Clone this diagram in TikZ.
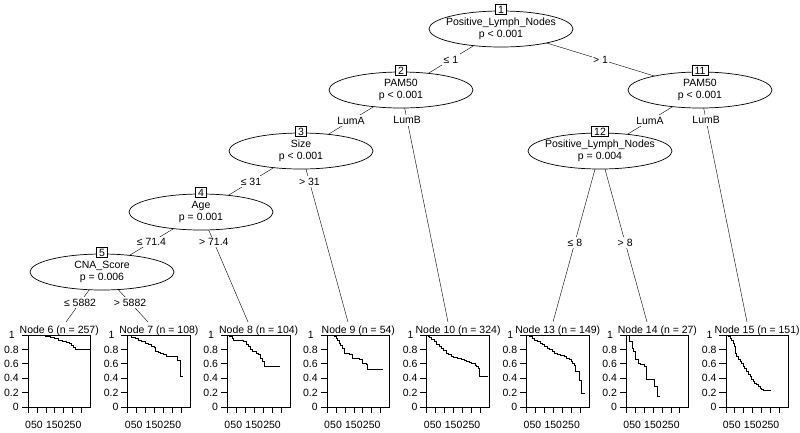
\documentclass[tikz,border=0pt]{standalone}
\usepackage{fontspec}
\setmainfont{Liberation Sans}
\usetikzlibrary{shapes.geometric}
\pgfdeclarelayer{bg}
\pgfsetlayers{bg,main}
\tikzset{
  every node/.style={font=\fontsize{10.5}{12}\selectfont, inner sep=0pt},
  innernode/.style={ellipse, draw, fill=white, minimum width=144pt, minimum height=36pt, inner sep=0pt},
  numbox/.style={draw, fill=white, minimum height=10pt, inner xsep=2.4pt, inner ysep=1pt},
  ntext/.style={align=center},
  edgelab/.style={fill=white, inner xsep=1.5pt, inner ysep=1.5pt},
  curve/.style={line width=0.7pt},
}
\newcommand\survpanel[4]{%
  \begin{scope}[shift={(#1,407)}, x=0.178571pt, y=72pt]
    \draw (0,0) rectangle (350,1);
    \foreach \v/\l/\s [count=\i] in {0/0/9,0.2/0.2/9,0.4/0.4/9,0.6/0.6/9,0.8/0.8/9,1/1/13} {
      \draw (0,\v) -- ++(-6.5pt,0);
      \node[anchor=east] (ya#2-\i) at ([xshift=-\s pt]0,\v) {\l};
    }
    \foreach \t in {0,50,...,300} { \draw (\t,0) -- ++(0,-6pt); }
    \foreach \t [count=\i] in {0,50,150,250} {
      \node (xa#2-\i) at ([yshift=-18pt]\t,0) {\t};
    }
    \node[anchor=base] (t#2) at ([yshift=2pt]175,1) {Node #2 (n = #3)};
    \draw[curve] plot[const plot] coordinates {#4};
  \end{scope}}
\begin{document}
\begin{tikzpicture}[x=1pt, y=-1pt, line width=0.7pt]
\useasboundingbox (0,0) rectangle (800,432);

% terminal panels
\survpanel{28}{6}{257}{(0,1)(30,0.995)(67,0.99)(95,0.98)(123,0.963)(145,0.95)(170,0.93)(195,0.915)(217,0.9)(232,0.885)(245,0.86)(255,0.83)(263,0.805)(350,0.805)}
\survpanel{127.7}{7}{108}{(0,1)(22,0.968)(41,0.949)(59,0.93)(78,0.907)(97,0.884)(115,0.875)(134,0.847)(147,0.829)(153,0.768)(171,0.76)(181,0.745)(199,0.736)(218,0.708)(255,0.699)(278,0.643)(293,0.421)(308,0.421)}
\survpanel{227.4}{8}{104}{(0,1)(10,0.98)(25,0.955)(34,0.93)(90,0.91)(105,0.87)(115,0.84)(128,0.80)(140,0.77)(160,0.745)(175,0.725)(185,0.68)(194,0.63)(207,0.56)(297,0.56)}
\survpanel{327.1}{9}{54}{(0,1)(38,0.98)(50,0.955)(57,0.92)(66,0.885)(75,0.85)(85,0.82)(95,0.75)(110,0.74)(123,0.73)(142,0.68)(165,0.67)(180,0.66)(199,0.61)(221,0.59)(227,0.52)(312,0.52)}
\survpanel{426.8}{10}{324}{(0,1)(8,0.985)(17,0.965)(27,0.94)(40,0.91)(55,0.87)(70,0.84)(83,0.81)(95,0.78)(110,0.75)(122,0.73)(135,0.71)(150,0.69)(170,0.675)(195,0.66)(210,0.645)(223,0.63)(240,0.615)(251,0.6)(270,0.585)(279,0.56)(289,0.537)(294,0.42)(344,0.42)}
\survpanel{526.5}{13}{149}{(0,1)(15,0.975)(32,0.955)(45,0.93)(60,0.91)(75,0.885)(88,0.865)(102,0.84)(116,0.82)(130,0.795)(144,0.77)(158,0.75)(172,0.735)(190,0.72)(210,0.70)(225,0.68)(238,0.66)(250,0.63)(257,0.607)(266,0.583)(275,0.49)(294,0.375)(309,0.19)(328,0.19)}
\survpanel{626.2}{14}{27}{(0,1)(19,0.91)(32,0.82)(42,0.77)(51,0.656)(70,0.61)(80,0.59)(99,0.564)(114,0.38)(156,0.29)(175,0.142)(190,0.142)}
\survpanel{725.9}{15}{151}{(0,1)(13,0.985)(25,0.96)(32,0.93)(41,0.885)(46,0.84)(51,0.79)(55,0.745)(60,0.70)(70,0.665)(79,0.633)(88,0.6)(97,0.564)(106,0.53)(116,0.495)(125,0.46)(135,0.427)(144,0.39)(153,0.358)(162,0.335)(172,0.31)(181,0.29)(191,0.266)(200,0.25)(210,0.234)(251,0.234)}

% edge end points at the terminal panels
\coordinate (e6) at (66,322);
\coordinate (e7) at (148,322);
\coordinate (e8) at (248,322);
\coordinate (e9) at (348,322);
\coordinate (e10) at (448,322);
\coordinate (e13) at (553,322);
\coordinate (e14) at (647,322);
\coordinate (e15) at (747,322);

% inner nodes
\foreach \id/\x/\y/\name/\p in {
  1/501/29/Positive\_Lymph\_Nodes/p < 0.001,
  2/401/90/PAM50/p < 0.001,
  11/700/90/PAM50/p < 0.001,
  3/301/151/Size/p < 0.001,
  12/600/151/Positive\_Lymph\_Nodes/p = 0.004,
  4/201/212/Age/p = 0.001,
  5/102/272/CNA\_Score/p = 0.006} {
  \node[innernode] (n\id) at (\x,\y) {};
  \node[ntext] (s\id) at (\x,\y-0.5) {\name\\\p};
  \node[numbox] (b\id) at (\x,\y-19.5) {\id};
}

% connectors
\begin{pgfonlayer}{bg}
\draw (n1.center) -- (n2.center) node[edgelab,pos=0.5] (l2) {≤ 1};
\draw (n1.center) -- (n11.center) node[edgelab,pos=0.5] (l11) {> 1};
\draw (n2.center) -- (n3.center) node[edgelab,pos=0.5] (l3) {LumA};
\draw (n2.center) -- (e10) node[edgelab,pos=0.131] (l10) {LumB};
\draw (n11.center) -- (n12.center) node[edgelab,pos=0.5] (l12) {LumA};
\draw (n11.center) -- (e15) node[edgelab,pos=0.131] (l15) {LumB};
\draw (n3.center) -- (n4.center) node[edgelab,pos=0.5] (l4) {≤ 31};
\draw (n3.center) -- (e9) node[edgelab,pos=0.178] (l9) {> 31};
\draw (n4.center) -- (n5.center) node[edgelab,pos=0.5] (l5) {≤ 71.4};
\draw (n4.center) -- (e8) node[edgelab,pos=0.273] (l8) {> 71.4};
\draw (n5.center) -- (e6) node[edgelab,pos=0.61] (l6) {≤ 5882};
\draw (n5.center) -- (e7) node[edgelab,pos=0.61] (l7) {> 5882};
\draw (n12.center) -- (e13) node[edgelab,pos=0.535] (l13) {≤ 8};
\draw (n12.center) -- (e14) node[edgelab,pos=0.535] (l14) {> 8};
\end{pgfonlayer}
\end{tikzpicture}
\end{document}
